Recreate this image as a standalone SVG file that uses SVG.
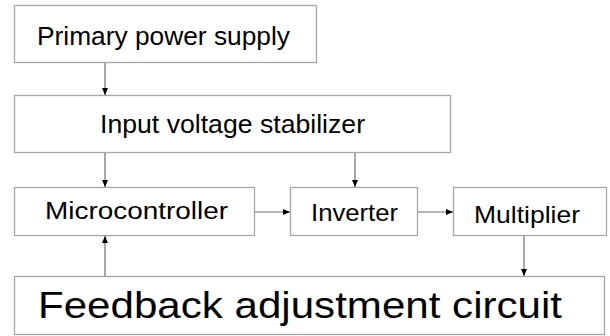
<svg xmlns="http://www.w3.org/2000/svg" width="610" height="336" viewBox="0 0 610 336">
<style>
.box{fill:#fff;stroke:#a6a6a6;stroke-width:1.3}
.t{font-family:"Liberation Sans",Arial,sans-serif;fill:#000}
.c{stroke:#6e6e6e;stroke-width:1.2;fill:none;marker-end:url(#ah)}
</style>
<defs>
<marker id="ah" markerWidth="8" markerHeight="8" refX="7" refY="3" orient="auto" markerUnits="userSpaceOnUse">
<path d="M0,0 L7,3 L0,6 z" fill="#000"/>
</marker>
</defs>
<rect width="610" height="336" fill="#fff"/>
<g id="n1"><rect class="box" x="14.5" y="5.5" width="302" height="57"/><text class="t" x="37" y="45" font-size="25.5" textLength="253" lengthAdjust="spacingAndGlyphs">Primary power supply</text></g>
<g id="n2"><rect class="box" x="14.5" y="95.5" width="436" height="57"/><text class="t" x="100" y="133" font-size="25.5" textLength="265" lengthAdjust="spacingAndGlyphs">Input voltage stabilizer</text></g>
<g id="n3"><rect class="box" x="14.5" y="187.5" width="240" height="48"/><text class="t" x="45" y="219.3" font-size="23" textLength="183" lengthAdjust="spacingAndGlyphs">Microcontroller</text></g>
<g id="n4"><rect class="box" x="290.5" y="187.5" width="127" height="48"/><text class="t" x="311" y="220.7" font-size="24" textLength="87" lengthAdjust="spacingAndGlyphs">Inverter</text></g>
<g id="n5"><rect class="box" x="453.5" y="187.5" width="153" height="48"/><text class="t" x="474" y="223.3" font-size="24.5" textLength="106" lengthAdjust="spacingAndGlyphs">Multiplier</text></g>
<g id="n6"><rect class="box" x="14.5" y="276.5" width="590" height="58"/><text class="t" x="38" y="318.3" font-size="37.5" textLength="524" lengthAdjust="spacingAndGlyphs">Feedback adjustment circuit</text></g>
<g id="connectors">
<line class="c" x1="105" y1="63" x2="105" y2="95"/>
<line class="c" x1="105" y1="153" x2="105" y2="187"/>
<line class="c" x1="355" y1="153" x2="355" y2="187"/>
<line class="c" x1="255" y1="212" x2="290" y2="212"/>
<line class="c" x1="418" y1="212" x2="453" y2="212"/>
<line class="c" x1="524" y1="236" x2="524" y2="276"/>
<line class="c" x1="105" y1="276" x2="105" y2="236"/>
</g>
</svg>
